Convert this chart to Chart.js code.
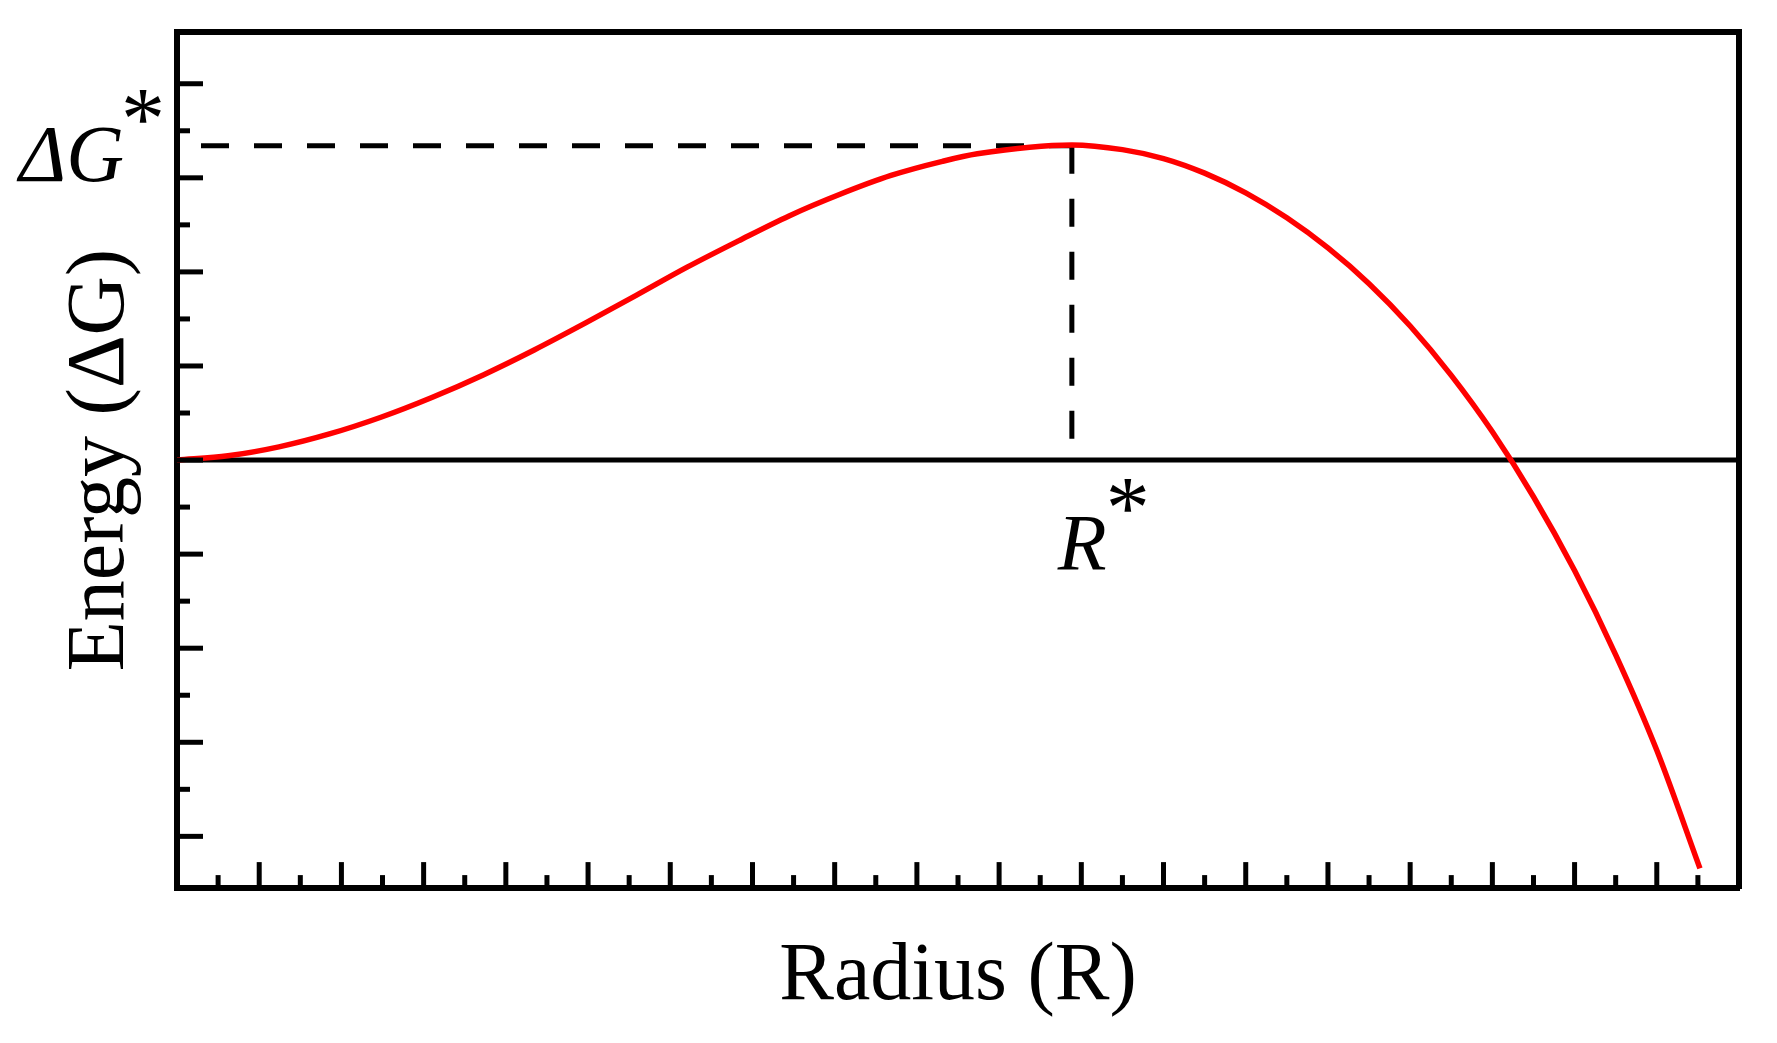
<!DOCTYPE html>
<html>
<head>
<meta charset="utf-8">
<title>Nucleation energy barrier</title>
<script src="https://cdn.jsdelivr.net/npm/chart.js@4.4.1/dist/chart.umd.min.js"></script>
<style>
  html, body { margin: 0; padding: 0; background: #fff; }
  #wrap { width: 1777px; height: 1043px; position: relative; }
</style>
</head>
<body>
<div id="wrap"><canvas id="chart"></canvas></div>
<script>
// values (x and y in minor-tick units, 0 = baseline)
const radius = [0, 1.24, 2.48, 3.73, 4.96, 6.2, 7.45, 8.69, 9.93, 11.17, 12.41, 13.66, 14.89,
  16.13, 17.37, 18.62, 19.47, 21.77, 23, 24, 25, 26, 27, 28, 29, 30, 31, 32, 33, 34, 35, 36, 37.05];
const energy = [0, 0.09, 0.28, 0.56, 0.91, 1.33, 1.81, 2.34, 2.91, 3.5, 4.1, 4.66, 5.19,
  5.65, 6.05, 6.35, 6.51, 6.7, 6.6, 6.41, 6.1, 5.68, 5.15, 4.51, 3.75, 2.85, 1.8, 0.6,
  -0.78, -2.35, -4.14, -6.17, -8.68];

const rStar = 21.77;   // R*
const gStar = 6.68;    // ΔG*
const zeroLine = [0, 38];

const xRange = [0, 38];
const yRange = [-9.1, 9.1];

const serif = '"Liberation Serif", "Times New Roman", serif';

// inward tick marks, major on even values
const inwardTicks = {
  id: 'inwardTicks',
  afterDraw(chart) {
    const { ctx, chartArea } = chart;
    const xs = chart.scales.x, ys = chart.scales.y;
    ctx.save();
    ctx.strokeStyle = '#000';
    ctx.lineWidth = 5;
    xs.ticks.forEach(t => {
      if (!Number.isInteger(t.value)) return;
      const px = xs.getPixelForValue(t.value);
      const len = t.value % 2 === 0 ? 26 : 13;
      ctx.beginPath();
      ctx.moveTo(px, chartArea.bottom);
      ctx.lineTo(px, chartArea.bottom - len);
      ctx.stroke();
    });
    ys.ticks.forEach(t => {
      if (!Number.isInteger(t.value)) return;
      const py = ys.getPixelForValue(t.value);
      const len = t.value % 2 === 0 ? 26 : 13;
      ctx.beginPath();
      ctx.moveTo(chartArea.left, py);
      ctx.lineTo(chartArea.left + len, py);
      ctx.stroke();
    });
    ctx.restore();
  }
};

// ΔG* and R* labels
const starLabels = {
  id: 'starLabels',
  afterDraw(chart) {
    const { ctx, chartArea } = chart;
    const xs = chart.scales.x, ys = chart.scales.y;
    const yG = ys.getPixelForValue(gStar);
    const y0 = ys.getPixelForValue(0);
    const xR = xs.getPixelForValue(rStar);
    ctx.save();
    ctx.fillStyle = '#000';
    ctx.textBaseline = 'alphabetic';

    ctx.font = 'italic 80px ' + serif;
    ctx.textAlign = 'right';
    ctx.fillText('ΔG', chartArea.left - 53, yG + 35);
    ctx.textAlign = 'left';
    ctx.fillText('R', xR - 14, y0 + 110);

    ctx.font = '88px ' + serif;
    ctx.fillText('*', chartArea.left - 56, yG + 2);
    ctx.fillText('*', xR + 34, y0 + 77);
    ctx.restore();
  }
};

const hiddenTicks = { display: false };
const noGrid = { display: false, drawTicks: false };
const frame = { display: true, color: '#000', width: 6 };

new Chart(document.getElementById('chart'), {
  type: 'line',
  data: {
    datasets: [
      {
        label: 'ΔG',
        data: radius.map((r, i) => ({ x: r, y: energy[i] })),
        borderColor: '#ff0000',
        borderWidth: 5.5,
        pointRadius: 0,
        cubicInterpolationMode: 'monotone'
      },
      {
        label: 'R*',
        data: [{ x: rStar, y: gStar }, { x: rStar, y: 0 }],
        borderColor: '#000',
        borderWidth: 5,
        borderDash: [28, 25],
        pointRadius: 0
      },
      {
        label: 'ΔG*',
        data: [{ x: 0, y: gStar }, { x: rStar, y: gStar }],
        borderColor: '#000',
        borderWidth: 5,
        borderDash: [28, 25],
        borderDashOffset: 29,
        pointRadius: 0
      },
      {
        label: 'zero',
        data: zeroLine.map(x => ({ x: x, y: 0 })),
        borderColor: '#000',
        borderWidth: 5,
        pointRadius: 0
      }
    ]
  },
  options: {
    responsive: true,
    maintainAspectRatio: false,
    animation: false,
    layout: { padding: { top: 32, right: 38, bottom: 0, left: 0 } },
    plugins: {
      legend: { display: false },
      tooltip: { enabled: false }
    },
    scales: {
      x: {
        type: 'linear',
        position: 'bottom',
        min: xRange[0],
        max: xRange[1],
        ticks: { stepSize: 1, display: false },
        grid: noGrid,
        border: frame,
        title: {
          display: true,
          text: 'Radius (R)',
          color: '#000',
          font: { family: serif, size: 82 },
          padding: { top: 40, bottom: 16.5 }
        }
      },
      y: {
        type: 'linear',
        position: 'left',
        min: yRange[0],
        max: yRange[1],
        ticks: { stepSize: 1, display: false },
        grid: noGrid,
        border: frame,
        title: {
          display: true,
          text: 'Energy (ΔG)',
          color: '#000',
          font: { family: serif, size: 82 },
          padding: { top: 52, bottom: 26.6 }
        }
      },
      x2: {
        type: 'linear',
        position: 'top',
        min: xRange[0],
        max: xRange[1],
        ticks: hiddenTicks,
        grid: noGrid,
        border: frame
      },
      y2: {
        type: 'linear',
        position: 'right',
        min: yRange[0],
        max: yRange[1],
        ticks: hiddenTicks,
        grid: noGrid,
        border: frame
      }
    }
  },
  plugins: [inwardTicks, starLabels]
});
</script>
</body>
</html>
